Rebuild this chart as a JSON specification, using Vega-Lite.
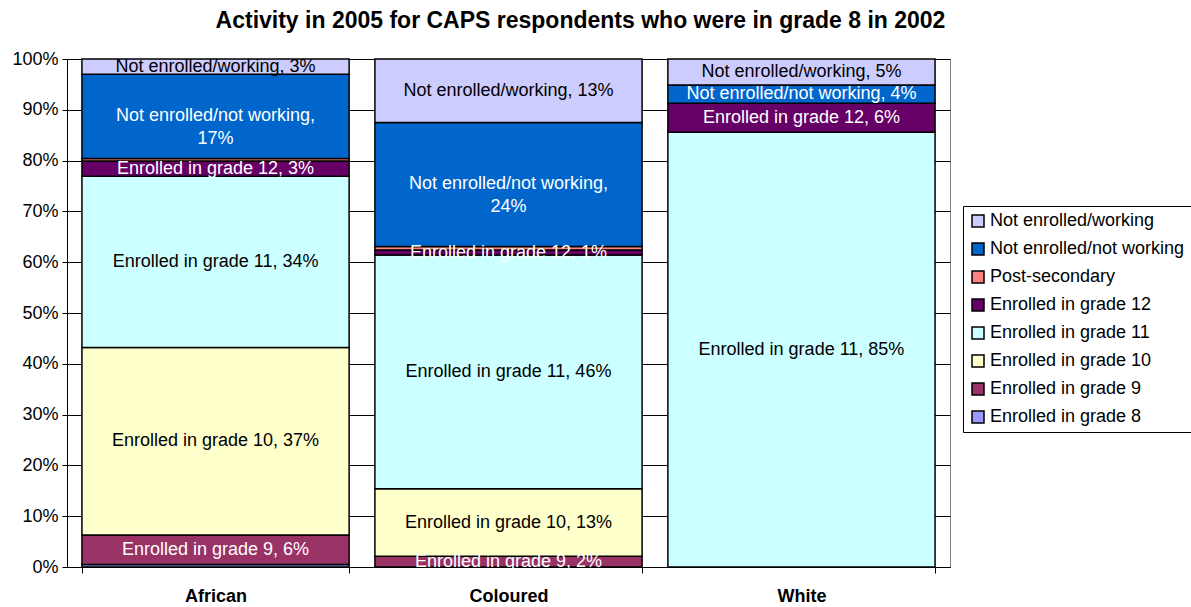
{
  "$schema": "https://vega.github.io/schema/vega-lite/v6.json",
  "width": 883,
  "height": 508,
  "autosize": {"type": "none"},
  "padding": {"left": 67, "top": 59, "right": 241, "bottom": 40},
  "background": "white",
  "config": {"font": "Liberation Sans", "view": {"stroke": "#808080"}},
  "title": {
    "text": "Activity in 2005 for CAPS respondents who were in grade 8 in 2002",
    "font": "Liberation Sans",
    "fontSize": 23,
    "fontWeight": "bold",
    "color": "black",
    "anchor": "middle",
    "dx": 72,
    "baseline": "alphabetic",
    "offset": -1
  },
  "data": {
    "values": [
      {"race": "African", "category": "Enrolled in grade 8", "ord": 1, "value": 0.5, "label": ""},
      {"race": "African", "category": "Enrolled in grade 9", "ord": 2, "value": 5.8, "label": "Enrolled in grade 9, 6%"},
      {"race": "African", "category": "Enrolled in grade 10", "ord": 3, "value": 36.9, "label": "Enrolled in grade 10, 37%"},
      {"race": "African", "category": "Enrolled in grade 11", "ord": 4, "value": 33.7, "label": "Enrolled in grade 11, 34%"},
      {"race": "African", "category": "Enrolled in grade 12", "ord": 5, "value": 3.0, "label": "Enrolled in grade 12, 3%"},
      {"race": "African", "category": "Post-secondary", "ord": 6, "value": 0.5, "label": ""},
      {"race": "African", "category": "Not enrolled/not working", "ord": 7, "value": 16.6, "label": "Not enrolled/not working,\n17%"},
      {"race": "African", "category": "Not enrolled/working", "ord": 8, "value": 3.0, "label": "Not enrolled/working, 3%"},
      {"race": "Coloured", "category": "Enrolled in grade 9", "ord": 2, "value": 2.1, "label": "Enrolled in grade 9, 2%"},
      {"race": "Coloured", "category": "Enrolled in grade 10", "ord": 3, "value": 13.3, "label": "Enrolled in grade 10, 13%"},
      {"race": "Coloured", "category": "Enrolled in grade 11", "ord": 4, "value": 46.0, "label": "Enrolled in grade 11, 46%"},
      {"race": "Coloured", "category": "Enrolled in grade 12", "ord": 5, "value": 1.0, "label": "Enrolled in grade 12, 1%"},
      {"race": "Coloured", "category": "Post-secondary", "ord": 6, "value": 0.7, "label": ""},
      {"race": "Coloured", "category": "Not enrolled/not working", "ord": 7, "value": 24.4, "label": "Not enrolled/not working,\n24%"},
      {"race": "Coloured", "category": "Not enrolled/working", "ord": 8, "value": 12.5, "label": "Not enrolled/working, 13%"},
      {"race": "White", "category": "Enrolled in grade 11", "ord": 4, "value": 85.6, "label": "Enrolled in grade 11, 85%"},
      {"race": "White", "category": "Enrolled in grade 12", "ord": 5, "value": 5.7, "label": "Enrolled in grade 12, 6%"},
      {"race": "White", "category": "Not enrolled/not working", "ord": 7, "value": 3.6, "label": "Not enrolled/not working, 4%"},
      {"race": "White", "category": "Not enrolled/working", "ord": 8, "value": 5.1, "label": "Not enrolled/working, 5%"}
    ]
  },
  "layer": [
    {
      "mark": {"type": "bar", "stroke": "black", "strokeWidth": 1.5},
      "encoding": {
        "x": {
          "field": "race",
          "type": "nominal",
          "sort": ["African", "Coloured", "White"],
          "scale": {"paddingInner": 0.088, "paddingOuter": 0.051},
          "axis": {
            "title": null,
            "labelAngle": 0,
            "labelFontWeight": "bold",
            "labelFontSize": 18,
            "labelColor": "black",
            "tickBand": "extent",
            "domainColor": "black",
            "tickColor": "black",
            "tickSize": 6,
            "labelPadding": 14
          }
        },
        "y": {
          "field": "value",
          "type": "quantitative",
          "stack": "zero",
          "scale": {"domain": [0, 100]},
          "axis": {
            "title": null,
            "values": [0, 10, 20, 30, 40, 50, 60, 70, 80, 90, 100],
            "labelExpr": "datum.value + '%'",
            "grid": true,
            "gridColor": "black",
            "gridOpacity": 1,
            "domainColor": "black",
            "tickColor": "black",
            "tickSize": 5,
            "labelFontSize": 18,
            "labelColor": "black",
            "labelPadding": 4
          }
        },
        "color": {
          "field": "category",
          "type": "nominal",
          "scale": {
            "domain": ["Not enrolled/working", "Not enrolled/not working", "Post-secondary", "Enrolled in grade 12", "Enrolled in grade 11", "Enrolled in grade 10", "Enrolled in grade 9", "Enrolled in grade 8"],
            "range": ["#CCCCFF", "#0066CC", "#FF8080", "#660066", "#CCFFFF", "#FFFFCC", "#993366", "#9999FF"]
          },
          "legend": {
            "title": null,
            "orient": "none",
            "legendX": 896,
            "legendY": 147,
            "symbolType": "square",
            "symbolSize": 144,
            "symbolStrokeColor": "black",
            "symbolStrokeWidth": 1.5,
            "symbolOpacity": 1,
            "labelFontSize": 18,
            "labelColor": "black",
            "labelLimit": 0,
            "labelOffset": 3,
            "rowPadding": 10,
            "strokeColor": "black",
            "padding": 6
          }
        },
        "order": {"field": "ord", "type": "quantitative"}
      }
    },
    {
      "transform": [
        {"stack": "value", "groupby": ["race"], "sort": [{"field": "ord", "order": "ascending"}], "as": ["y0", "y1"]},
        {"calculate": "(datum.y0 + datum.y1) / 2", "as": "mid"},
        {"filter": "datum.label != ''"}
      ],
      "mark": {"type": "text", "fontSize": 18, "lineBreak": "\n", "lineHeight": 23, "baseline": "middle"},
      "encoding": {
        "x": {"field": "race", "type": "nominal", "sort": ["African", "Coloured", "White"]},
        "y": {"field": "mid", "type": "quantitative"},
        "text": {"field": "label"},
        "color": {
          "condition": {"test": "indexof(['Enrolled in grade 9','Enrolled in grade 12','Not enrolled/not working'], datum.category) >= 0", "value": "white"},
          "value": "black"
        }
      }
    }
  ]
}
